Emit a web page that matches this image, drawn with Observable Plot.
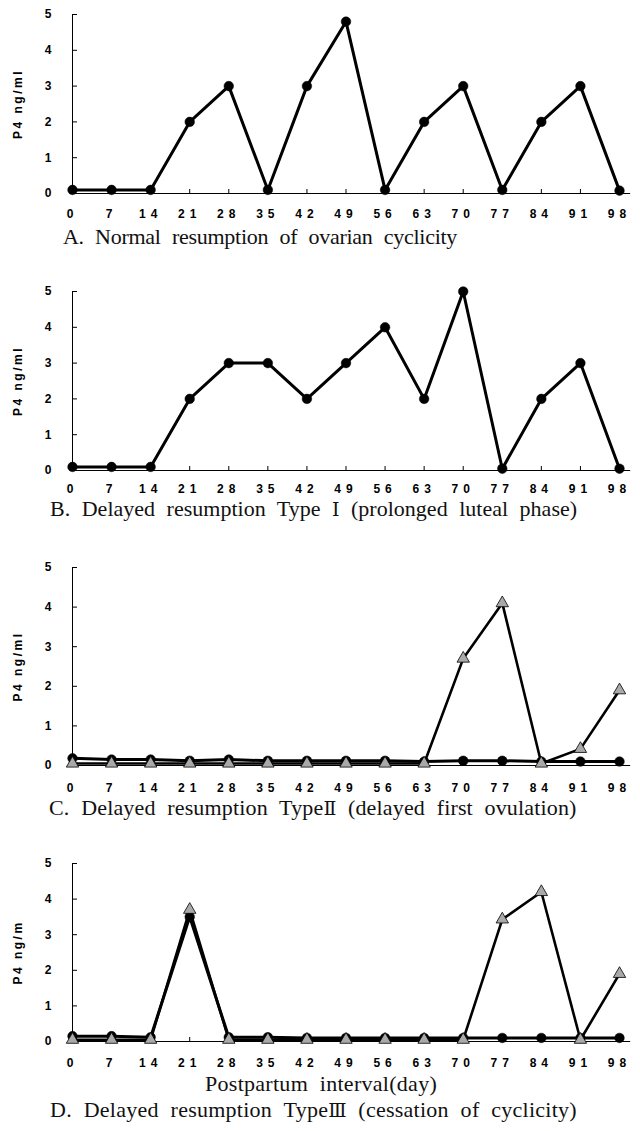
<!DOCTYPE html>
<html>
<head>
<meta charset="utf-8">
<script src="https://cdn.jsdelivr.net/npm/d3@7"></script>
<script src="https://cdn.jsdelivr.net/npm/@observablehq/plot@0.6"></script>
<style>
  html, body { margin: 0; padding: 0; background: white; }
  #root { position: relative; width: 640px; height: 1131px; overflow: hidden; background: white; }
  .panel { position: absolute; left: 0; }
  .cap { position: absolute; font-family: "Liberation Serif", "Times New Roman", serif; font-size: 22px; line-height: 16px; white-space: nowrap; color: #111; word-spacing: 6px; }
  .cap .rn { font-family: "DejaVu Serif", "Liberation Serif", serif; font-size: 19px; letter-spacing: 0; }
  .panel g[aria-label="x-axis tick label"] text { letter-spacing: 5px; }
  .panel g[aria-label="text"] text { letter-spacing: 2.5px; }
</style>
</head>
<body>
<div id="root"></div>
<script>
// ---- data ----
const days = [0, 7, 14, 21, 28, 35, 42, 49, 56, 63, 70, 77, 84, 91, 98];
const yTicks = [0, 1, 2, 3, 4, 5];

const seriesA = [0.1, 0.1, 0.1, 2, 3, 0.1, 3, 4.8, 0.1, 2, 3, 0.1, 2, 3, 0.08];
const seriesB = [0.1, 0.1, 0.1, 2, 3, 3, 2, 3, 4, 2, 5, 0.05, 2, 3, 0.05];
const seriesCcircle = [0.18, 0.15, 0.15, 0.12, 0.15, 0.12, 0.12, 0.12, 0.12, 0.1, 0.12, 0.12, 0.1, 0.1, 0.1];
const seriesCtriangle = [0.05, 0.05, 0.05, 0.05, 0.05, 0.05, 0.05, 0.05, 0.05, 0.05, 2.7, 4.1, 0.05, 0.42, 1.9];
const seriesDcircle = [0.15, 0.15, 0.12, 3.5, 0.12, 0.12, 0.1, 0.1, 0.1, 0.1, 0.1, 0.1, 0.1, 0.1, 0.1];
const seriesDtriangle = [0.05, 0.05, 0.05, 3.7, 0.05, 0.05, 0.05, 0.05, 0.05, 0.05, 0.05, 3.43, 4.2, 0.05, 1.9];

const yLabels = ["P4 ng/ml", "P4 ng/ml", "P4 ng/ml", "P4 ng/m"];
// caption parts: [before numeral, numeral, after numeral]
const captions = [
  ["A. Normal resumption of ovarian cyclicity", "", ""],
  ["B. Delayed resumption Type ", "Ⅰ", " (prolonged luteal phase)"],
  ["C. Delayed resumption Type", "Ⅱ", " (delayed first ovulation)"],
  ["D. Delayed resumption Type", "Ⅲ", " (cessation of cyclicity)"]
];
const xAxisTitle = "Postpartum interval(day)";

// ---- layout ----
const panels = [
  {y5: 14,  y0: 193,  labelOff: 20, capY: 240, capX: 63, capW: 394, circles: [seriesA], triangles: []},
  {y5: 291, y0: 470,  labelOff: 18, capY: 512, capX: 50, capW: 527, circles: [seriesB], triangles: []},
  {y5: 567, y0: 765,  labelOff: 22, capY: 811, capX: 49, capW: 528, circles: [seriesCcircle], triangles: [seriesCtriangle]},
  {y5: 863, y0: 1041, labelOff: 21, capY: 1113, capX: 50, capW: 527, circles: [seriesDcircle], triangles: [seriesDtriangle]}
];

const root = document.getElementById("root");
const MT = 10, MB = 40;

panels.forEach((p, i) => {
  const plotH = p.y0 - p.y5;
  const toRows = arr => days.map((d, j) => ({day: d, v: arr[j]}));
  const lineMarks = [];
  const dotMarks = [];
  p.circles.forEach(s => {
    const rows = toRows(s);
    lineMarks.push(Plot.line(rows, {x: "day", y: "v", stroke: "black", strokeWidth: 3}));
    dotMarks.push(Plot.dot(rows, {x: "day", y: "v", r: 4.8, fill: "black", stroke: "black", strokeWidth: 0.5}));
  });
  p.triangles.forEach(s => {
    const rows = toRows(s);
    lineMarks.push(Plot.line(rows, {x: "day", y: "v", stroke: "black", strokeWidth: 2.6}));
    dotMarks.push(Plot.dot(rows, {x: "day", y: "v", symbol: "triangle", r: 4.6, fill: "#a9a9a9", stroke: "black", strokeWidth: 0.8}));
  });

  const chart = Plot.plot({
    width: 640,
    height: MT + plotH + MB,
    marginTop: MT, marginBottom: MB, marginLeft: 72, marginRight: 21,
    x: {domain: [0, 98]},
    y: {domain: [0, 5]},
    style: {fontFamily: "'Liberation Sans', Arial, sans-serif", fontSize: "12px", fontWeight: "bold", color: "black", background: "transparent", overflow: "visible"},
    marks: [
      Plot.axisY(yTicks, {tickSize: 0, tickPadding: 21, label: null, fontSize: 12}),
      Plot.axisX(days, {tickSize: 0, tickPadding: p.labelOff - 4.5, label: null, fontSize: 12, tickFormat: d => String(d)}),
      Plot.ruleX([0], {stroke: "black", strokeWidth: 1}),
      Plot.ruleY([0], {x1: 0, x2: 100, stroke: "black", strokeWidth: 1}),
      Plot.ruleX(days, {x: d => d, y1: 0, y2: 0, insetTop: -4, stroke: "black", strokeWidth: 1}),
      Plot.ruleY(yTicks, {y: d => d, x1: 0, x2: 0, insetRight: -5, stroke: "black", strokeWidth: 1}),
      ...lineMarks,
      ...dotMarks,
      Plot.text([yLabels[i]], {text: d => d, frameAnchor: "left", dx: -54, rotate: -90, fontSize: 12, fontWeight: "bold", lineAnchor: "middle", textAnchor: "middle"})
    ]
  });
  chart.classList.add("panel");
  chart.style.top = (p.y5 - MT) + "px";
  root.appendChild(chart);

  const cap = document.createElement("div");
  cap.className = "cap";
  const [pre, rn, post] = captions[i];
  cap.appendChild(document.createTextNode(pre));
  if (rn) {
    const s = document.createElement("span");
    s.className = "rn";
    s.textContent = rn;
    cap.appendChild(s);
  }
  if (post) cap.appendChild(document.createTextNode(post));
  cap.style.left = p.capX + "px";
  cap.style.top = (p.capY - 11) + "px";
  root.appendChild(cap);
  fitWidth(cap, p.capW);
});

// x-axis title of the last panel
const xt = document.createElement("div");
xt.className = "cap";
xt.textContent = xAxisTitle;
xt.style.left = "205px";
xt.style.top = (1087 - 11) + "px";
root.appendChild(xt);
fitWidth(xt, 232);

function fitWidth(el, target) {
  const natural = el.getBoundingClientRect().width;
  const n = el.textContent.length;
  const ls = (target - natural) / n;
  el.style.letterSpacing = ls.toFixed(2) + "px";
}
</script>
</body>
</html>
